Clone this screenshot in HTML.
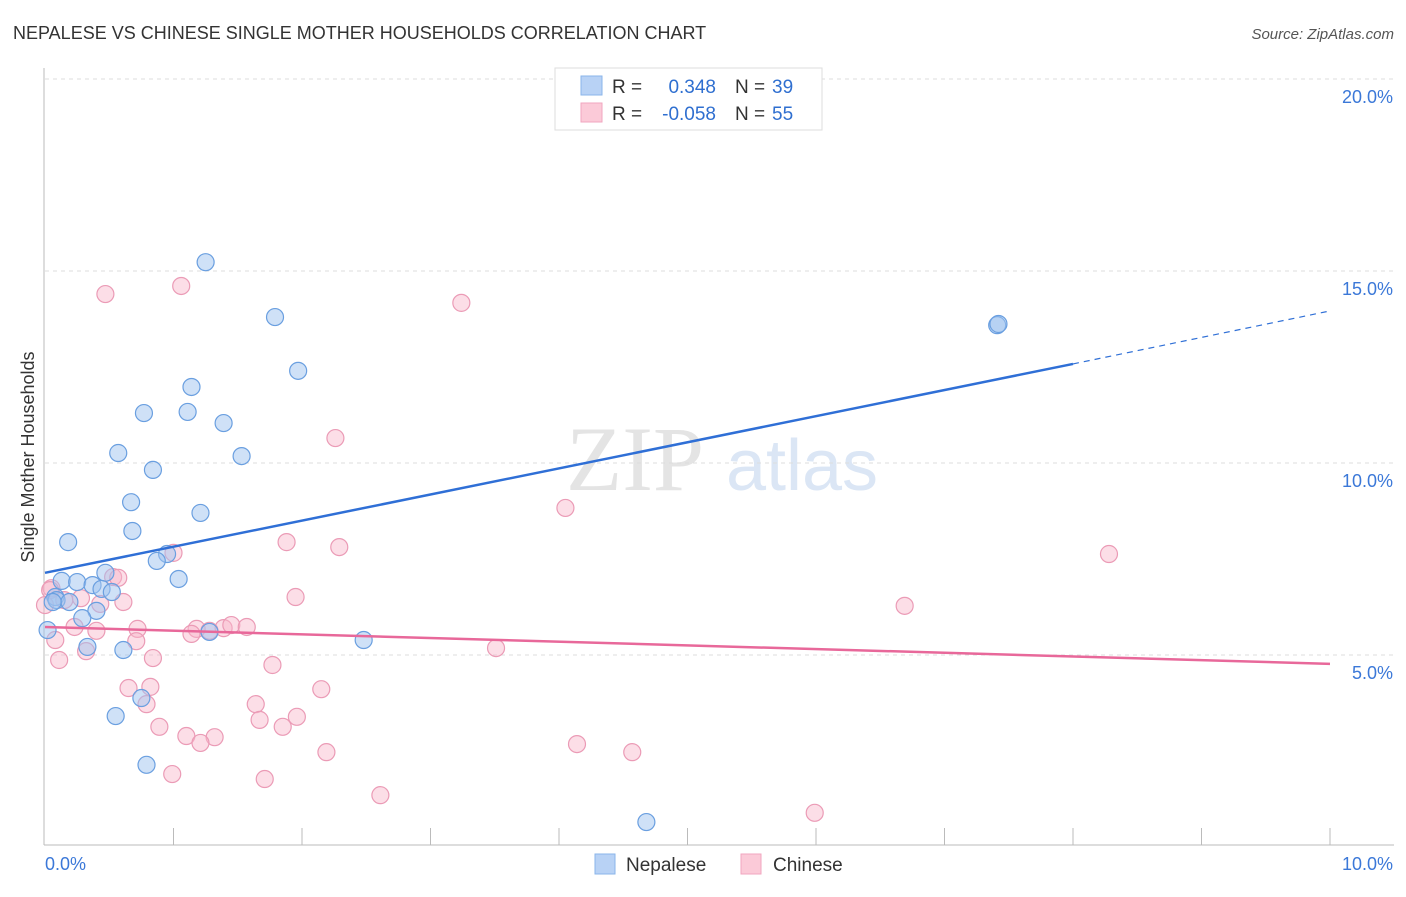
<!DOCTYPE html>
<html><head><meta charset="utf-8"><style>
body{margin:0;background:#fff;font-family:"Liberation Sans",sans-serif}
</style></head><body>
<svg width="1406" height="892" xmlns="http://www.w3.org/2000/svg" style="font-family:'Liberation Sans',sans-serif">
<text x="13" y="39" font-size="18" fill="#333">NEPALESE VS CHINESE SINGLE MOTHER HOUSEHOLDS CORRELATION CHART</text>
<text x="1394" y="39" font-size="15" fill="#555" font-style="italic" text-anchor="end">Source: ZipAtlas.com</text>
<g>
<text x="635" y="490" font-size="92" fill="#e4e4e4" font-family="Liberation Serif,serif" text-anchor="middle">ZIP</text>
<text x="802" y="490" font-size="72" fill="#dbe6f5" text-anchor="middle">atlas</text>
</g>
<g id="grid"></g>
<line x1="44" y1="68" x2="44" y2="845" stroke="#bbb"/>
<line x1="44" y1="845" x2="1394" y2="845" stroke="#bbb"/>
<text transform="translate(34,457) rotate(-90)" font-size="18" fill="#333" text-anchor="middle">Single Mother Households</text>
<g id="marks"></g>
<g>
<rect x="555" y="68" width="267" height="62" fill="#fff" stroke="#ddd"/>
<rect x="581" y="76" width="21" height="19" fill="#b8d2f5" stroke="#8ab4ea"/>
<rect x="581" y="103" width="21" height="19" fill="#fbcad8" stroke="#f0a6bf"/>
<text x="612" y="93" font-size="19" fill="#333">R = </text><text x="716" y="93" font-size="19" fill="#2f6fd0" text-anchor="end">0.348</text>
<text x="735" y="93" font-size="19" fill="#333">N = </text><text x="772" y="93" font-size="19" fill="#2f6fd0">39</text>
<text x="612" y="120" font-size="19" fill="#333">R = </text><text x="716" y="120" font-size="19" fill="#2f6fd0" text-anchor="end">-0.058</text>
<text x="735" y="120" font-size="19" fill="#333">N = </text><text x="772" y="120" font-size="19" fill="#2f6fd0">55</text>
</g>
<g>
<rect x="595" y="854" width="20" height="20" fill="#b8d2f5" stroke="#8ab4ea"/>
<text x="626" y="871" font-size="19" fill="#333">Nepalese</text>
<rect x="741" y="854" width="20" height="20" fill="#fbcad8" stroke="#f0a6bf"/>
<text x="773" y="871" font-size="19" fill="#333">Chinese</text>
</g>
<text x="45" y="870" font-size="18" fill="#3b78d8">0.0%</text>
<text x="1393" y="870" font-size="18" fill="#3b78d8" text-anchor="end">10.0%</text>
</svg>
<script>
const yTicks=[5,10,15,20];
const yTickLabels=["5.0%","10.0%","15.0%","20.0%"];
const xTicks=[1,2,3,4,5,6,7,8,9,10];
const nepX=[1.25,1.79,1.97,1.14,0.77,1.11,1.39,0.57,1.53,0.84,0.67,1.21,0.68,0.18,0.95,0.87,1.04,0.13,0.25,0.37,0.47,0.44,0.52,0.08,0.09,0.19,0.06,0.40,0.29,0.02,1.28,2.48,0.33,0.61,0.75,0.55,0.79,4.68,7.41,7.42];
const nepY=[15.23,13.80,12.40,11.98,11.30,11.33,11.04,10.26,10.18,9.82,8.98,8.70,8.23,7.94,7.63,7.45,6.98,6.93,6.90,6.82,7.14,6.72,6.64,6.51,6.43,6.38,6.38,6.15,5.96,5.65,5.60,5.39,5.21,5.13,3.88,3.41,2.14,0.65,13.59,13.62];
const chiX=[0.47,1.06,3.24,2.26,4.05,1.88,2.29,8.28,1.00,0.53,0.57,0.05,0.15,0.28,0.43,0.61,1.95,6.69,0.23,0.40,0.72,1.18,1.14,1.39,1.45,1.57,1.28,0.71,0.08,0.32,3.51,0.84,0.11,1.77,0.65,0.82,2.15,0.79,1.64,1.67,1.96,0.89,1.85,1.10,1.32,1.21,4.14,2.19,4.57,0.99,1.71,2.61,5.99,0.04,0.00];
const chiY=[14.40,14.61,14.17,10.65,8.83,7.94,7.81,7.63,7.66,7.03,7.01,6.74,6.43,6.48,6.33,6.38,6.51,6.28,5.73,5.63,5.68,5.68,5.55,5.70,5.78,5.73,5.63,5.36,5.39,5.10,5.18,4.92,4.87,4.74,4.14,4.17,4.11,3.72,3.72,3.31,3.39,3.13,3.13,2.89,2.86,2.71,2.68,2.47,2.47,1.90,1.77,1.35,0.89,6.69,6.30];
const nepTrend=[7.14,12.58]; // at x=0 and x=8
const nepTrendExt=13.96; // at x=10
const chiTrend=[5.73,4.77]; // at x=0 and x=10
const NS="http://www.w3.org/2000/svg";
const X=v=>45+v*128.5, Y=v=>847-v*38.4;
const grid=document.getElementById('grid'), marks=document.getElementById('marks');
function mk(tag,a,p){const e=document.createElementNS(NS,tag);for(const k in a)e.setAttribute(k,a[k]);p.appendChild(e);return e;}
yTicks.forEach((t,i)=>{
 const l=mk('line',{x1:45,x2:1394,y1:Y(t),y2:Y(t),stroke:'#ddd','stroke-dasharray':'4,4'},grid);
 
 
 const tx=mk('text',{x:1393,y:Y(t)+24,'font-size':18,fill:'#3b78d8','text-anchor':'end'},grid);
 tx.textContent=yTickLabels[i];
 
 
});
xTicks.forEach(t=>{
 const l=mk('line',{x1:X(t),x2:X(t),y1:828,y2:845,stroke:'#bbb'},grid);
 
 
});
function pts(xs,ys,fill,stroke,name){
 xs.forEach((x,i)=>{
  const c=mk('circle',{cx:X(x),cy:Y(ys[i]),r:8.5,fill:fill,stroke:stroke,'stroke-width':1.2},marks);
  
  
 });
}
pts(chiX,chiY,'rgba(248,182,202,0.45)','#eb9bb6','chinese-point');
pts(nepX,nepY,'rgba(160,196,240,0.5)','#6a9fe0','nepalese-point');
let l=mk('line',{x1:X(0),y1:Y(nepTrend[0]),x2:X(8),y2:Y(nepTrend[1]),stroke:'#2f6fd6','stroke-width':2.5},marks);


l=mk('line',{x1:X(8),y1:Y(nepTrend[1]),x2:X(10),y2:Y(nepTrendExt),stroke:'#2f6fd6','stroke-width':1.2,'stroke-dasharray':'6,5'},marks);


l=mk('line',{x1:X(0),y1:Y(chiTrend[0]),x2:X(10),y2:Y(chiTrend[1]),stroke:'#e8689a','stroke-width':2.5},marks);


</script>
</body></html>
